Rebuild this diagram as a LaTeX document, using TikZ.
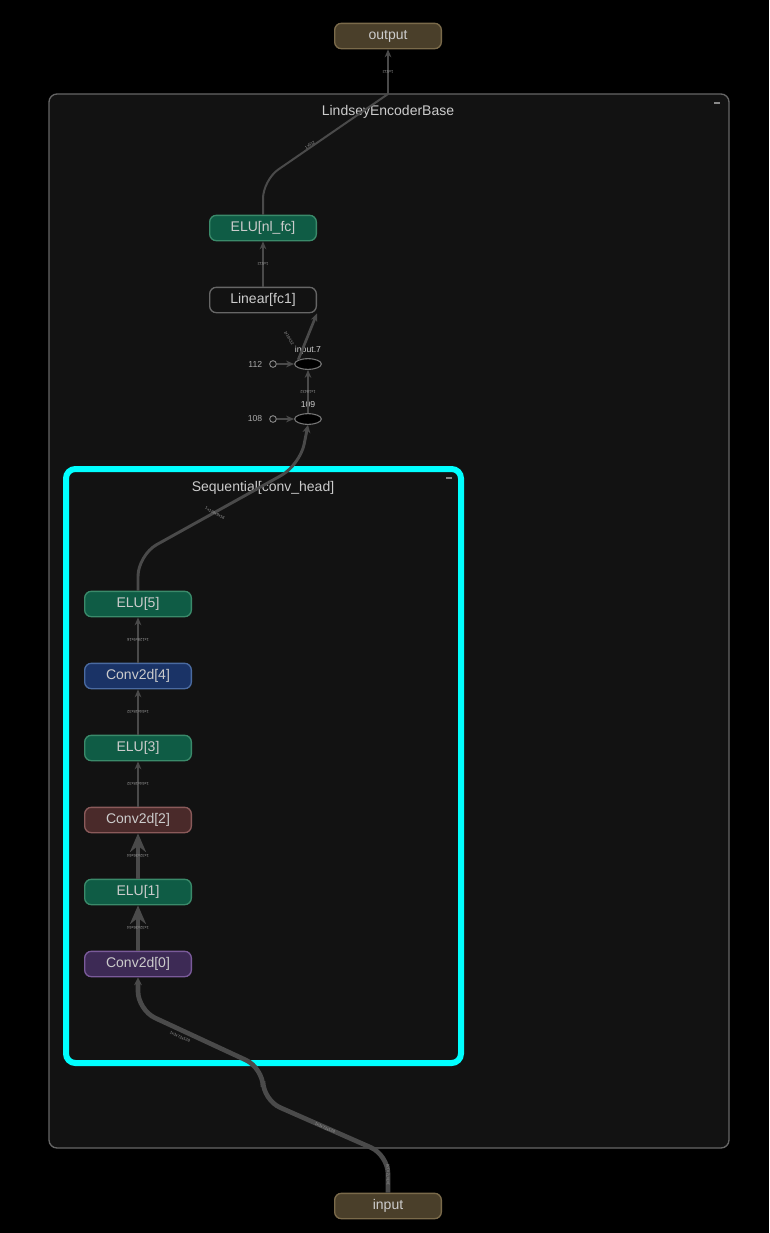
\documentclass[tikz,border=0pt]{standalone}
\usepackage{fontspec}
\setmainfont{Liberation Sans}
\usetikzlibrary{arrows.meta,shapes.geometric}
\definecolor{bg}{HTML}{000000}
\definecolor{panel}{HTML}{121212}
\definecolor{edge}{HTML}{4a4a4a}
\definecolor{txt}{HTML}{cccccc}
\tikzset{
  box/.style={rounded corners=5pt,minimum width=80pt,minimum height=19pt,line width=1pt,text=txt,font=\fontsize{10.5}{12}\selectfont,inner sep=0pt},
  ioB/.style={box,fill=HTML4a3f2a,draw=HTML7a6a4a},
  eluB/.style={box,fill=HTML0f5c45,draw=HTML3a8a6a},
  linB/.style={box,fill=panel,draw=HTML666666},
  conv0/.style={box,fill=HTML3d2a55,draw=HTML7a5a9a},
  conv2/.style={box,fill=HTML4a2a2a,draw=HTML8a5a5a},
  conv4/.style={box,fill=HTML1a3366,draw=HTML4a6aa0},
  opnode/.style={ellipse,draw=HTML777777,fill=black,line width=0.8pt,minimum width=20pt,minimum height=8pt,inner sep=0pt},
  cst/.style={circle,draw=HTML888888,line width=0.7pt,minimum size=5pt,inner sep=0pt},
  thin/.style={draw=edge,line width=1.5pt,-{Stealth[length=6pt,width=5pt]},rounded corners=12pt},
  thick/.style={draw=edge,line width=3.5pt,-{Stealth[length=14pt,width=12pt]},rounded corners=14pt},
  lab/.style={font=\fontsize{3}{3}\selectfont,text=HTML999999,sloped,inner sep=0.5pt},
  small/.style={font=\fontsize{6.5}{7}\selectfont,text=HTML aaaaaa}
}
\colorlet{HTML4a3f2a}{black}
\definecolor{HTML4a3f2a}{HTML}{4a3f2a}\definecolor{HTML7a6a4a}{HTML}{7a6a4a}
\definecolor{HTML0f5c45}{HTML}{0f5c45}\definecolor{HTML3a8a6a}{HTML}{3a8a6a}
\definecolor{HTML666666}{HTML}{666666}\definecolor{HTML777777}{HTML}{777777}
\definecolor{HTML888888}{HTML}{888888}\definecolor{HTML999999}{HTML}{999999}
\definecolor{HTML aaaaaa}{HTML}{aaaaaa}
\definecolor{HTML3d2a55}{HTML}{3d2a55}\definecolor{HTML7a5a9a}{HTML}{7a5a9a}
\definecolor{HTML4a2a2a}{HTML}{4a2a2a}\definecolor{HTML8a5a5a}{HTML}{8a5a5a}
\definecolor{HTML1a3366}{HTML}{1a3366}\definecolor{HTML4a6aa0}{HTML}{4a6aa0}
\definecolor{cyanB}{HTML}{00FFFF}
\begin{document}
\begin{tikzpicture}[x=0.75pt,y=-0.75pt]
\fill[bg] (0,0) rectangle (769,1233);
\useasboundingbox (0,0) rectangle (769,1233);
% outer panel
\draw[fill=panel,draw=HTML666666,line width=1pt,rounded corners=6pt] (49,94) rectangle (729,1148);
\node[text=txt,font=\fontsize{10.5}{12}\selectfont] (t1) at (388,112) {LindseyEncoderBase};
\draw[HTML888888,line width=0.8pt] (714,103) -- (720,103);
% cyan box
\draw[fill=panel,draw=cyanB,line width=4.5pt,rounded corners=7pt] (66,469) rectangle (461,1063);
\node[text=txt,font=\fontsize{10.5}{12}\selectfont] (t2) at (263,488) {Sequential[conv\_head]};
\draw[HTML888888,line width=0.8pt] (446,478) -- (452,478);
% nodes
\node[ioB] (out) at (388,36) {output};
\node[ioB] (in) at (388,1206) {input};
\node[eluB] (elufc) at (263,228) {ELU[nl\_fc]};
\node[linB] (fc1) at (263,300) {Linear[fc1]};
\node[opnode] (i7) at (308,364) {};
\node[small,text=txt] (i7l) at (308,350) {input.7};
\node[opnode] (o109) at (308,419) {};
\node[small,text=txt] (o109l) at (308,405) {109};
\node[cst] (c112) at (273,364) {};
\node[small,anchor=east] (c112l) at (267,364) {112};
\node[cst] (c108) at (273,419) {};
\node[small,anchor=east] (c108l) at (267,419) {108};
\node[eluB] (elu5) at (138,604) {ELU[5]};
\node[conv4] (cv4) at (138,676) {Conv2d[4]};
\node[eluB] (elu3) at (138,748) {ELU[3]};
\node[conv2] (cv2) at (138,820) {Conv2d[2]};
\node[eluB] (elu1) at (138,892) {ELU[1]};
\node[conv0] (cv0) at (138,964) {Conv2d[0]};
\coordinate (j1) at (388,1155);
\coordinate (j2) at (263,1068);
\coordinate (j3) at (388,94);
% edges
\draw[draw=edge,line width=3.5pt,rounded corners=14pt,-{Stealth[length=6pt,width=6pt]}] (in.north) -- (j1) -- (263,1100) -- (j2) -- (138,1010) -- (cv0.south);
\node[lab,rotate=90] (l0) at (388,1175) {1x3x72x128};
\node[lab,rotate=-24] (l1) at (325,1128) {1x3x72x128};
\node[lab,rotate=-24] (l2) at (180,1037) {1x3x72x128};
\draw[thick] (cv0.north) -- (elu1.south) node[lab,midway,rotate=90] {1x32x36x64};
\draw[thick] (elu1.north) -- (cv2.south) node[lab,midway,rotate=90] {1x32x36x64};
\draw[thin] (cv2.north) -- (elu3.south) node[lab,midway,rotate=90] {1x64x18x32};
\draw[thin] (elu3.north) -- (cv4.south) node[lab,midway,rotate=90] {1x64x18x32};
\draw[thin] (cv4.north) -- (elu5.south) node[lab,midway,rotate=90] {1x128x9x16};
\draw[draw=edge,line width=2.2pt,rounded corners=16pt,-{Stealth[length=6pt,width=6pt]}] (elu5.north) -- (138,555) -- (300,465) -- (o109.south);
\node[lab,rotate=-29] (l3) at (215,513) {1x128x9x16};
\draw[thin] (c108) -- (o109.west);
\draw[thin] (c112) -- (i7.west);
\draw[draw=edge,line width=2pt,-{Stealth[length=6pt,width=5pt]}] (o109.north) -- (i7.south) node[lab,midway,rotate=90] {1x18432};
\draw[draw=edge,line width=2pt,-{Stealth[length=6pt,width=5pt]}] (i7.north west) -- (fc1.south east) ;
\node[lab,rotate=-60] (l4) at (289,338) {1x18432};
\draw[thin] (fc1.north) -- (elufc.south) node[lab,midway,rotate=90] {1x512};
\draw[draw=edge,line width=1.5pt,rounded corners=14pt] (elufc.north) -- (263,180) -- (j3);
\node[lab,rotate=33] (l5) at (310,145) {1x512};
\draw[thin] (j3) -- (out.south) node[lab,midway,rotate=90] {1x512};
\end{tikzpicture}
\end{document}
